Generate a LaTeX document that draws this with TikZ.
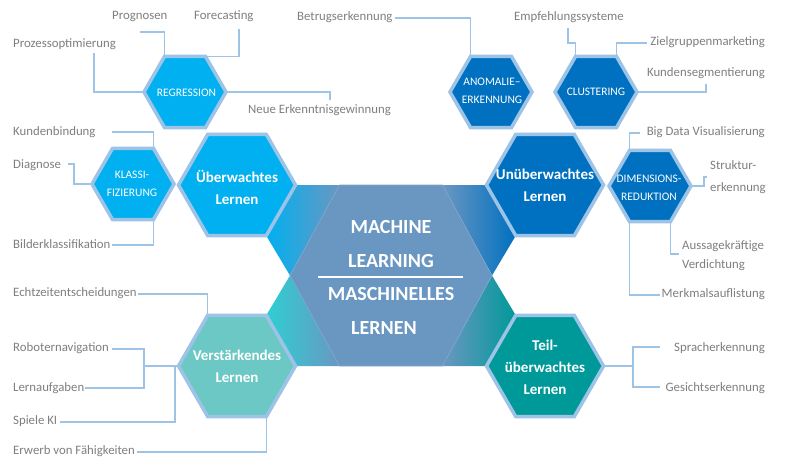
\documentclass[tikz,border=0pt]{standalone}
\usepackage{fontspec}
\setmainfont{Carlito}
\usetikzlibrary{shapes.geometric}
\definecolor{cU}{HTML}{00B0F0}
\definecolor{cUU}{HTML}{0070C0}
\definecolor{cV}{HTML}{6BC8C4}
\definecolor{cT}{HTML}{009999}
\definecolor{cC}{HTML}{6A97C1}
\definecolor{cBord}{HTML}{9DC3E6}
\definecolor{cLine}{HTML}{9DC3E6}
\definecolor{cLab}{HTML}{7F7F7F}
\definecolor{cTurq}{HTML}{2ECFD2}
\pgfdeclarelayer{back}
\pgfdeclarelayer{bg}
\pgfsetlayers{back,bg,main}
\begin{document}
\begin{tikzpicture}[x=1pt,y=-1pt,
  hexbig/.style={regular polygon, regular polygon sides=6, minimum size=117pt, inner sep=0pt, outer sep=0pt, draw=cBord, line width=3.5pt},
  hexsmall/.style={hexbig, minimum size=82pt},
  bigtxt/.style={text=white, align=center, font=\fontsize{15}{22}\selectfont\bfseries},
  smalltxt/.style={text=white, align=center, font=\fontsize{11.5}{18}\selectfont},
  centxt/.style={text=white, font=\fontsize{20}{24}\selectfont\bfseries, inner sep=0pt},
  lab/.style={text=cLab, font=\fontsize{12.8}{15}\selectfont, inner sep=0pt, text height=0.62em, text depth=0.05em},
  conn/.style={draw=cLine, line width=1.4pt},
]
\begin{pgfonlayer}{back}
\fill[white] (0,0) rectangle (807,464);
\end{pgfonlayer}
\useasboundingbox (0,0) rectangle (807,464);

% corners of a hexagon: 1 top-right, 2 top-left, 3 left, 4 bottom-left, 5 bottom-right, 6 right
% main hexagons
\node[hexbig, fill=cU]  (U)  at (237,185) {};
\node[hexbig, fill=cUU] (UU) at (545,185) {};
\node[hexbig, fill=cV]  (V)  at (237,366) {};
\node[hexbig, fill=cT]  (T)  at (545,366) {};
% small hexagons
\node[hexsmall, fill=cU]  (REG) at (185,92) {};
\node[hexsmall, fill=cU]  (KLA) at (133,184) {};
\node[hexsmall, fill=cUU] (ANO) at (491,92) {};
\node[hexsmall, fill=cUU] (CLU) at (596,92) {};
\node[hexsmall, fill=cUU] (DIM) at (650,186) {};

% central hexagon corners
\coordinate (cTL) at (339.5,185);
\coordinate (cTR) at (442.5,185);
\coordinate (cR)  at (492,275.5);
\coordinate (cBR) at (442.5,366);
\coordinate (cBL) at (339.5,366);
\coordinate (cL)  at (290,275.5);

\begin{pgfonlayer}{bg}
\shade[left color=cU, right color=cC] (U.corner 6) -- (cTL) -- (cL) -- (U.corner 5) -- cycle;
\shade[left color=cC, right color=cUU] (cTR) -- (UU.corner 3) -- (UU.corner 4) -- (cR) -- cycle;
\shade[left color=cTurq, right color=cC] (cL) -- (V.corner 1) -- (V.corner 6) -- (cBL) -- cycle;
\shade[left color=cC, right color=cT] (cR) -- (cBR) -- (T.corner 3) -- (T.corner 2) -- cycle;
\fill[cC, draw=cC!85!white, line width=0.6pt] (cTL) -- (cTR) -- (cR) -- (cBR) -- (cBL) -- (cL) -- cycle;
\end{pgfonlayer}

% texts in hexagons
\node[bigtxt] (tU)  at (237,187)   {Überwachtes\\Lernen};
\node[bigtxt] (tUU) at (545,185.5) {Unüberwachtes\\Lernen};
\node[bigtxt] (tV)  at (237,366.5) {Verstärkendes\\Lernen};
\node[bigtxt] (tT)  at (545,367)   {Teil-\\überwachtes\\Lernen};
\node[smalltxt] (tREG) at (186.5,93) {REGRESSION};
\node[smalltxt] (tKLA) at (132,184) {KLASSI-\\FIZIERUNG};
\node[smalltxt] (tANO) at (492,91) {ANOMALIE–\\ERKENNUNG};
\node[smalltxt] (tCLU) at (596,92) {CLUSTERING};
\node[smalltxt] (tDIM) at (649,188) {DIMENSIONS-\\REDUKTION};

\node[centxt] (c1) at (391,227) {MACHINE};
\node[centxt] (c2) at (391,261) {LEARNING};
\node[centxt] (c3) at (391,294) {MASCHINELLES};
\node[centxt] (c4) at (384,328) {LERNEN};
\draw[white, line width=1.3pt] (318,277) -- (463,277);

% labels
\node[lab, anchor=west] (lProg) at (112,17) {Prognosen};
\node[lab, anchor=west] (lFore) at (194,17) {Forecasting};
\node[lab, anchor=west] (lBetr) at (297,18) {Betrugserkennung};
\node[lab, anchor=west] (lProz) at (13,45) {Prozessoptimierung};
\node[lab, anchor=west] (lNeue) at (248,111) {Neue Erkenntnisgewinnung};
\node[lab, anchor=west] (lKund) at (13,133) {Kundenbindung};
\node[lab, anchor=west] (lDiag) at (13,166) {Diagnose};
\node[lab, anchor=west] (lBild) at (13,246) {Bilderklassifikation};
\node[lab, anchor=west] (lEcht) at (13,294) {Echtzeitentscheidungen};
\node[lab, anchor=west] (lRobo) at (13,349) {Roboternavigation};
\node[lab, anchor=west] (lLern) at (13,389) {Lernaufgaben};
\node[lab, anchor=west] (lSpie) at (13,422) {Spiele KI};
\node[lab, anchor=west] (lErwe) at (13,452) {Erwerb von Fähigkeiten};
\node[lab, anchor=west] (lEmpf) at (514,18) {Empfehlungssysteme};
\node[lab, anchor=east] (lZiel) at (765,43) {Zielgruppenmarketing};
\node[lab, anchor=east] (lKseg) at (765,74) {Kundensegmentierung};
\node[lab, anchor=east] (lBig)  at (765,133) {Big Data Visualisierung};
\node[lab, anchor=west] (lStr1) at (710,167) {Struktur-};
\node[lab, anchor=west] (lStr2) at (710,189) {erkennung};
\node[lab, anchor=west] (lAus1) at (682,247) {Aussagekräftige};
\node[lab, anchor=west] (lAus2) at (682,266) {Verdichtung};
\node[lab, anchor=east] (lMerk) at (765,295) {Merkmalsauflistung};
\node[lab, anchor=east] (lSpra) at (765,349) {Spracherkennung};
\node[lab, anchor=east] (lGesi) at (765,389) {Gesichtserkennung};

% connector end points
\coordinate (pProg) at (140,32);
\coordinate (pFore) at (239,29);
\coordinate (pProz) at (94,53);
\coordinate (pNeue) at (330,100);
\coordinate (pKund) at (112,132);
\coordinate (pDiag) at (68,164);
\coordinate (pBild) at (112,245);
\coordinate (pBetr) at (395,18);
\coordinate (pEmpf) at (568,28);
\coordinate (pZiel) at (647,43);
\coordinate (pKseg) at (706,84);
\coordinate (pBig)  at (640,133);
\coordinate (pStr)  at (707,177);
\coordinate (pAus)  at (679,254);
\coordinate (pMerk) at (660,295);
\coordinate (jT)    at (633,366);
\coordinate (pSpra) at (660,347);
\coordinate (pGesi) at (660,387);
\coordinate (pEcht) at (138,294);
\coordinate (pRobo) at (112,349);
\coordinate (pLern) at (85,388);
\coordinate (jV)    at (144,366);
\coordinate (pSpie) at (60,422);
\coordinate (jS)    at (175,366);
\coordinate (pErwe) at (137,452);

\begin{pgfonlayer}{bg}
\draw[conn] (pProg) -| (REG.corner 2);
\draw[conn] (pFore) |- (REG.corner 1);
\draw[conn] (pProz) |- (REG.corner 3);
\draw[conn] (REG.corner 6) -| (pNeue);
\draw[conn] (pKund) -| (KLA.corner 1);
\draw[conn] (pDiag) -- ++(6,0) |- (KLA.corner 3);
\draw[conn] (pBild) -| (KLA.corner 5);
\draw[conn] (pBetr) -| (ANO.corner 2);
\draw[conn] (pEmpf) -- ++(0,15) -| (CLU.corner 2);
\draw[conn] (pZiel) -| (CLU.corner 1);
\draw[conn] (CLU.corner 6) -| (pKseg);
\draw[conn] (pBig) -| (DIM.corner 2);
\draw[conn] (DIM.corner 6) -- ++(13,0) |- (pStr);
\draw[conn] (DIM.corner 5) |- (pAus);
\draw[conn] (DIM.corner 4) |- (pMerk);
\draw[conn] (T.corner 6) -- (jT);
\draw[conn] (pSpra) -| (jT);
\draw[conn] (pGesi) -| (jT);
\draw[conn] (pEcht) -| (V.corner 2);
\draw[conn] (pRobo) -| (jV);
\draw[conn] (pLern) -| (jV);
\draw[conn] (jV) -- (V.corner 3);
\draw[conn] (pSpie) -| (jS);
\draw[conn] (pErwe) -| (V.corner 5);
\end{pgfonlayer}
\end{tikzpicture}
\end{document}
